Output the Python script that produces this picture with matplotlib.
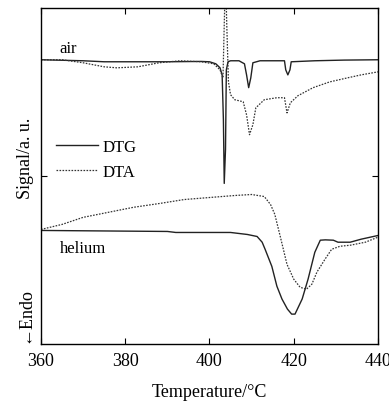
import numpy as np
import matplotlib
matplotlib.use("Agg")
import matplotlib.pyplot as plt

plt.rcParams['font.family'] = ['Liberation Serif', 'DejaVu Serif']

# air run, DTG (solid)
air_dtg_t = [360, 370, 375, 390, 398, 400, 401.5, 402.5, 403.0, 403.3, 403.5, 403.8, 404.0, 404.4,
             405, 407, 408.3, 408.8, 409.3, 409.8, 410.3, 412, 417.8, 418.1, 418.6, 419.1, 419.4,
             425, 432, 440]
air_dtg = [84.6, 84.3, 84.0, 84.0, 84.1, 84.0, 83.4, 82.2, 80.1, 66.8, 47.8, 57.9, 81.6, 84.0,
           84.3, 84.3, 83.4, 80.1, 76.3, 79.2, 83.7, 84.3, 84.3, 81.6, 80.1, 81.6, 84.0,
           84.3, 84.5, 84.6]

# air run, DTA (dotted)
air_dta_t = [360, 365, 370, 375, 378, 383, 388, 393, 398, 401, 402.5, 403.2, 403.5, 403.8, 404.1,
             404.5, 405, 406, 408, 408.8, 409.5, 410.3, 411, 413, 416, 417.8, 418.4, 419.2,
             421, 424.6, 428.5, 432.7, 436, 440]
air_dta = [84.6, 84.6, 83.7, 82.5, 82.2, 82.5, 83.7, 84.3, 84.0, 83.4, 81.6, 79.2, 95.0, 110.0, 95.0,
           78.0, 74.2, 72.7, 72.1, 68.2, 62.3, 65.3, 70.3, 72.7, 73.3, 73.3, 68.8, 71.8,
           73.9, 76.3, 78.0, 79.2, 80.1, 81.0]

# helium run, DTG (solid)
he_dtg_t = [360, 390, 392, 405, 409, 411.3, 412.5, 413.2, 414.8, 416, 417.2, 418.5, 419.5, 420.3,
            422, 423.4, 425, 426.3, 427.5, 429.4, 430.5, 433.4, 436, 440]
he_dtg = [33.8, 33.5, 33.2, 33.2, 32.6, 32.0, 30.3, 28.2, 23.1, 17.2, 13.4, 10.4, 8.9, 8.9,
          13.4, 19.3, 27.3, 30.9, 31.0, 30.9, 30.3, 30.3, 31.2, 32.3]

# helium run, DTA (dotted)
he_dta_t = [360, 365, 370, 376, 382, 388, 394, 400, 406, 410, 413, 414.5, 415.5, 416.8, 418.4,
            420, 421.5, 423, 424.3, 425.5, 427.4, 429, 431, 433.4, 437, 440]
he_dta = [34.1, 35.6, 37.7, 39.2, 40.7, 41.8, 43.0, 43.6, 44.2, 44.5, 43.9, 41.5, 38.6, 32.0, 23.7,
          19.3, 16.9, 16.3, 17.8, 21.4, 25.2, 28.2, 29.1, 29.4, 30.3, 31.8]

xticks = [360, 380, 400, 420, 440]

fig = plt.figure(figsize=(3.89, 4.06), dpi=100)
ax = fig.add_axes([0.1054, 0.1502, 0.8663, 0.8276])

solid_kw = dict(color='#222222', lw=1.0, ls='-')
dot_kw = dict(color='#333333', lw=0.9, ls=(0, (1.3, 1.1)))

ax.plot(air_dtg_t, air_dtg, label='DTG', **solid_kw)
ax.plot(air_dta_t, air_dta, label='DTA', **dot_kw)
ax.plot(he_dtg_t, he_dtg, **solid_kw)
ax.plot(he_dta_t, he_dta, **dot_kw)

ax.set_xlim(360, 440)
ax.set_ylim(0, 100)
ax.set_xticks(xticks)
ax.set_yticks([50])
ax.set_yticklabels([])
ax.tick_params(direction='in', top=True, right=True, length=4, width=0.8, labelsize=13, pad=6)
for s in ax.spines.values():
    s.set_linewidth(1.0)

ax.set_xlabel('Temperature/°C', fontsize=13, labelpad=10)

ax.text(0.056, 0.87, 'air', transform=ax.transAxes, fontsize=12)
ax.text(0.056, 0.275, 'helium', transform=ax.transAxes, fontsize=12)

ax.legend(loc='upper left', bbox_to_anchor=(0.0, 0.656), frameon=False, fontsize=12,
          handlelength=2.5, handletextpad=0.3, labelspacing=0.55)

fig.text(0.065, 0.61, 'Signal/a. u.', rotation=90, ha='center', va='center', fontsize=13)
fig.text(0.065, 0.225, '←Endo', rotation=90, ha='center', va='center', fontsize=13)

fig.savefig('out.png', dpi=100)
